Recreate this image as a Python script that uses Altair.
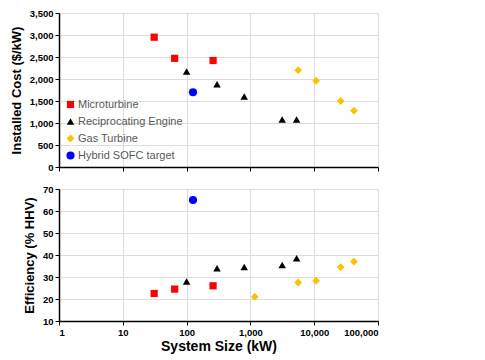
import altair as alt
import pandas as pd

types = ["Microturbine", "Reciprocating Engine", "Gas Turbine", "Hybrid SOFC target"]

micro_size = [31, 65, 260]
micro_cost = [2950, 2470, 2420]
micro_eff = [22.5, 24.5, 26]

recip_size = [100, 300, 800, 3150, 5300]
recip_cost = [2170, 1880, 1600, 1080, 1080]
recip_eff = [28, 34, 34.5, 35.5, 38.5]

gas_size = [1170, 5600, 10700, 26000, 42000]
gas_cost = [None, 2200, 1960, 1500, 1280]
gas_eff = [21, 27.5, 28.3, 34.5, 37]

sofc_size = [126]
sofc_cost = [1700]
sofc_eff = [65]

rows = []
for t, s, c, e in [
    (types[0], micro_size, micro_cost, micro_eff),
    (types[1], recip_size, recip_cost, recip_eff),
    (types[2], gas_size, gas_cost, gas_eff),
    (types[3], sofc_size, sofc_cost, sofc_eff),
]:
    for si, ci, ei in zip(s, c, e):
        rows.append({"Type": t, "Size": si, "Cost": ci, "Eff": ei})
df = pd.DataFrame(rows)

FONT = "Liberation Sans"
x_ticks = [1, 10, 100, 1000, 10000, 100000]

color_scale = alt.Scale(domain=types, range=["#FF0000", "#000000", "#FFC000", "#0000FF"])
shape_scale = alt.Scale(domain=types, range=["square", "triangle-up", "diamond", "circle"])
size_scale = alt.Scale(domain=types, range=[52, 66, 64, 121])

xscale = alt.Scale(type="log", domain=[1, 100000], nice=False)

top = alt.Chart(df).transform_filter("datum.Cost != null").mark_point(filled=True, opacity=1).encode(
    x=alt.X("Size:Q", scale=xscale,
            axis=alt.Axis(values=x_ticks, labels=False, title=None, grid=True)),
    y=alt.Y("Cost:Q", scale=alt.Scale(domain=[0, 3500], nice=False),
            axis=alt.Axis(values=list(range(0, 3501, 500)), format=",.0f",
                          title="Installed Cost ($/kW)")),
    color=alt.Color("Type:N", scale=color_scale, legend=alt.Legend(
        title=None, orient="bottom-left", offset=6, labelFont=FONT, labelFontSize=11,
        labelColor="#595959", rowPadding=5, symbolOffset=0, labelOffset=2)),
    shape=alt.Shape("Type:N", scale=shape_scale),
    size=alt.Size("Type:N", scale=size_scale),
).properties(width=319, height=154)

bottom = alt.Chart(df).mark_point(filled=True, opacity=1).encode(
    x=alt.X("Size:Q", scale=xscale,
            axis=alt.Axis(values=x_ticks, format=",.0f", title="System Size (kW)",
                          titleFontSize=14, grid=True, titlePadding=3)),
    y=alt.Y("Eff:Q", scale=alt.Scale(domain=[10, 70], nice=False),
            axis=alt.Axis(values=list(range(10, 71, 10)),
                          title="Efficiency (% HHV)")),
    color=alt.Color("Type:N", scale=color_scale, legend=None),
    shape=alt.Shape("Type:N", scale=shape_scale, legend=None),
    size=alt.Size("Type:N", scale=size_scale, legend=None),
).properties(width=319, height=132)

chart = alt.vconcat(top, bottom, spacing=12).resolve_scale(
    color="independent", shape="independent", size="independent"
).resolve_legend(
    color="independent", shape="independent", size="independent"
).properties(
    padding={"left": 2, "top": 0, "right": 0, "bottom": 0}
).configure_view(stroke=None).configure_axis(
    labelFont=FONT, labelFontWeight="bold", labelFontSize=9.5, labelColor="#000000",
    titleFont=FONT, titleFontWeight="bold", titleFontSize=13, titleColor="#000000",
    gridColor="#dcdcdc", gridWidth=1, domainColor="#000000", tickColor="#000000",
    tickSize=4, labelPadding=2, titlePadding=6
).configure_axisX(domainWidth=1.5).configure_axisY(domainWidth=1.5)

chart.save("out.html", embed_options={"renderer": "svg", "actions": False})
